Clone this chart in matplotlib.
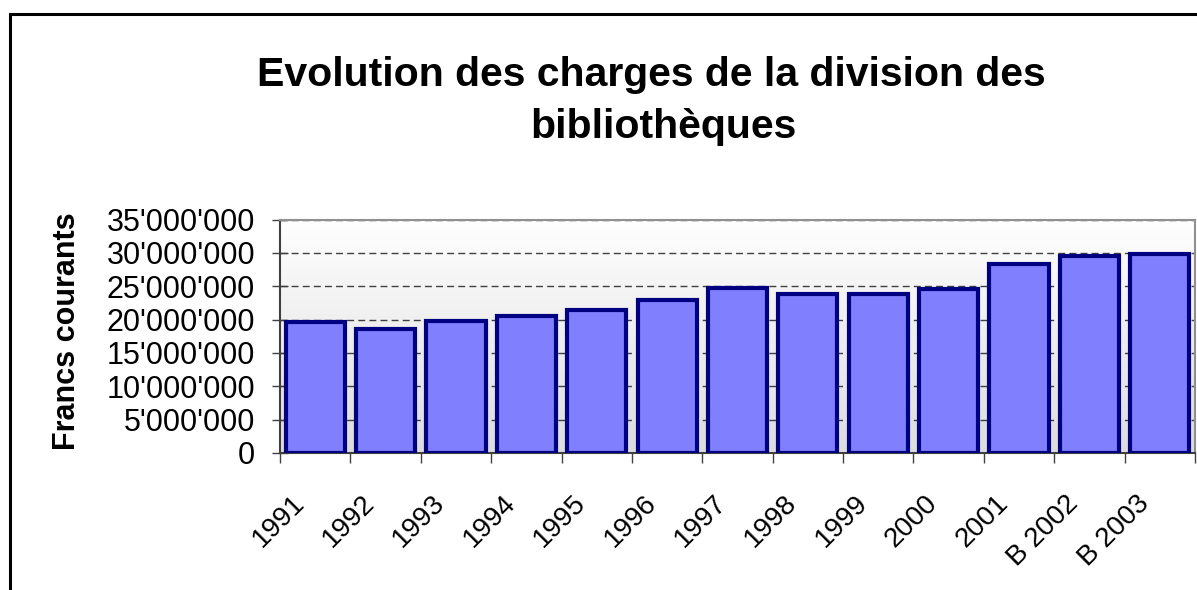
import numpy as np
import matplotlib
matplotlib.use("Agg")
import matplotlib.pyplot as plt
from matplotlib.ticker import FuncFormatter, MultipleLocator
from matplotlib.patches import Rectangle
import matplotlib.transforms as mtransforms

plt.rcParams['font.family'] = ['Liberation Sans', 'DejaVu Sans']

# ---- data ----
categories = ['1991', '1992', '1993', '1994', '1995', '1996', '1997',
              '1998', '1999', '2000', '2001', 'B 2002', 'B 2003']
charges = [19600000, 18600000, 19800000, 20600000, 21500000, 22900000, 24800000,
           23800000, 23900000, 24600000, 28400000, 29600000, 29800000]
title_line1 = "Evolution des charges de la division des"
title_line2 = "bibliothèques"
ylabel_text = "Francs courants"

W, H = 1197, 590
fig = plt.figure(figsize=(W / 100, H / 100), dpi=100)
ax = fig.add_axes([280 / W, 1 - 453 / H, (1195 - 280) / W, (453 - 219.5) / H])

x = np.arange(len(categories))
ax.set_xlim(-0.5, len(categories) - 0.5)
ax.set_ylim(0, 35000000)

# gradient background
grad = np.linspace(0, 1, 256).reshape(-1, 1)
ax.imshow(grad, extent=(-0.5, len(categories) - 0.5, 0, 35000000), aspect='auto',
          cmap=matplotlib.colors.LinearSegmentedColormap.from_list('g', ['#dcdcdc', '#ffffff']),
          origin='lower', zorder=0)

ax.yaxis.set_major_locator(MultipleLocator(5000000))
ax.grid(axis='y', color='#404040', linestyle=(0, (5, 3)), linewidth=1.0, zorder=1)
ax.set_axisbelow(True)

ax.bar(x, charges, width=0.84, color='#8080ff', edgecolor='#000080', linewidth=3.0, zorder=3)

ax.yaxis.set_major_formatter(FuncFormatter(lambda v, p: f"{int(v):,}".replace(',', "'")))
ax.set_xticks(np.arange(len(categories) + 1) - 0.5, minor=False)
ax.set_xticklabels([])
ax.set_xticks(x, minor=True)
ax.set_xticklabels(categories, minor=True, rotation=45, ha='right', va='top',
                   rotation_mode='anchor', fontsize=20)
ax.tick_params(axis='x', which='minor', length=0, pad=27)
ax.tick_params(axis='x', which='major', direction='out', length=7, width=1, color='#404040')
ax.tick_params(axis='y', direction='inout', length=12, width=1, color='#404040', labelsize=22, pad=12)
offset = mtransforms.ScaledTranslation(-24 / 100, 0, fig.dpi_scale_trans)
for lbl in ax.get_xticklabels(minor=True):
    lbl.set_transform(lbl.get_transform() + offset)

for side in ['top', 'right']:
    ax.spines[side].set_color('#909090')
    ax.spines[side].set_linewidth(1.5)
ax.spines['left'].set_color('#404040')
ax.spines['bottom'].set_color('#404040')
ax.spines['left'].set_linewidth(1.5)
ax.spines['bottom'].set_linewidth(1.5)

fig.text(651 / W, 1 - 86 / H, title_line1, ha='center', va='baseline', fontsize=29.5,
         fontweight='bold')
fig.text(663 / W, 1 - 138 / H, title_line2, ha='center', va='baseline', fontsize=29.5,
         fontweight='bold')
fig.text(67 / W, 1 - 331 / H, ylabel_text, ha='center', va='center', rotation=90,
         fontsize=22, fontweight='bold')

fig.patches.append(Rectangle((9.5 / W, -0.1), 1.2, 1 - 13.5 / H + 0.1, transform=fig.transFigure,
                             fill=False, edgecolor='black', linewidth=2.2, figure=fig))

fig.savefig('out.png', dpi=100)
